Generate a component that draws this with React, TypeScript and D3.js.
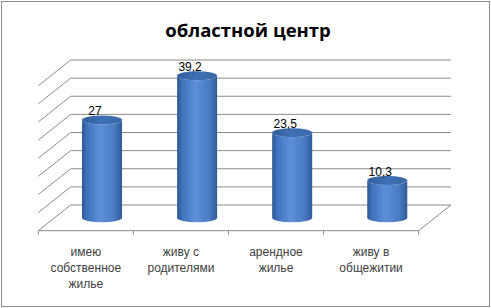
import React from "react";
import * as d3 from "d3";

const categories: string[][] = [
  ["имею", "собственное", "жилье"],
  ["живу с", "родителями"],
  ["арендное", "жилье"],
  ["живу в", "общежитии"],
];
const values: number[] = [27, 39.2, 23.5, 10.3];
const valueLabels: string[] = ["27", "39,2", "23,5", "10,3"];
const gridTicks: number[] = [0, 5, 10, 15, 20, 25, 30, 35, 40];
const title = "областной центр";

const W = 491;
const H = 308;
const backLeft = 70.7;
const backRight = 451;
const depthDx = -32.4;
const depthDy = 25.7;

export default function App() {
  const y = d3.scaleLinear().domain([0, 40]).range([205, 60]);
  const xFront = d3
    .scaleBand<number>()
    .domain(d3.range(categories.length))
    .range([backLeft + depthDx, backRight + depthDx]);
  const bw = xFront.bandwidth();
  const rx = 20;
  const ry = 4.5;
  const midDx = depthDx / 2;
  const midDy = depthDy / 2;
  const frontY = y(0) + depthDy;
  const gridColor = "#8c8c8c";

  return (
    <svg
      width={W}
      height={H}
      style={{ position: "absolute", left: 0, top: 0, background: "#fff" }}
    >
      <defs>
        <linearGradient id="body" x1="0" x2="1" y1="0" y2="0">
          <stop offset="0" stopColor="#2c5694" />
          <stop offset="0.12" stopColor="#3f72bb" />
          <stop offset="0.45" stopColor="#5d90d8" />
          <stop offset="0.8" stopColor="#4a7cc4" />
          <stop offset="1" stopColor="#2f5a98" />
        </linearGradient>
        <linearGradient id="top" x1="0" x2="1" y1="0" y2="0">
          <stop offset="0" stopColor="#345f9f" />
          <stop offset="0.5" stopColor="#3f6fb4" />
          <stop offset="1" stopColor="#3a68a8" />
        </linearGradient>
      </defs>
      <rect x={1.5} y={1.5} width={488} height={305} fill="#fff" stroke="#8c8c8c" />
      <text
        x={248}
        y={36.7}
        textAnchor="middle"
        fontFamily="'Open Sans', 'Liberation Sans', Arial, sans-serif"
        fontWeight="bold"
        fontSize={18.5}
        fill="#000"
      >
        {title}
      </text>
      {gridTicks.map((t) => (
        <g key={t}>
          <line x1={backLeft} x2={backRight} y1={y(t)} y2={y(t)} stroke={gridColor} />
          <line
            x1={backLeft}
            y1={y(t)}
            x2={backLeft + depthDx}
            y2={y(t) + depthDy}
            stroke={gridColor}
          />
        </g>
      ))}
      <line
        x1={backLeft + depthDx}
        x2={backRight + depthDx}
        y1={frontY}
        y2={frontY}
        stroke={gridColor}
      />
      <line
        x1={backRight}
        y1={y(0)}
        x2={backRight + depthDx}
        y2={frontY}
        stroke={gridColor}
      />
      {d3.range(categories.length + 1).map((i) => {
        const x = i < categories.length ? xFront(i)! : xFront(categories.length - 1)! + bw;
        return (
          <line key={i} x1={x} x2={x} y1={frontY} y2={frontY + 4} stroke={gridColor} />
        );
      })}
      {values.map((v, i) => {
        const c = xFront(i)! + bw / 2 - midDx;
        const yb = y(0) + midDy;
        const yt = y(v) + midDy;
        const body = `M${c - rx},${yt} L${c - rx},${yb} A${rx},${ry} 0 0 0 ${c + rx},${yb} L${c + rx},${yt} A${rx},${ry} 0 0 1 ${c - rx},${yt} Z`;
        return (
          <g key={i}>
            <path d={body} fill="url(#body)" />
            <ellipse cx={c} cy={yt} rx={rx} ry={ry} fill="url(#top)" />
            <text
              x={c - 7}
              y={yt - ry - 0.5}
              textAnchor="middle"
              fontFamily="'Liberation Sans', Arial, sans-serif"
              fontSize={12}
              fill="#000"
            >
              {valueLabels[i]}
            </text>
          </g>
        );
      })}
      {categories.map((lines, i) => (
        <text
          key={i}
          textAnchor="middle"
          fontFamily="'Liberation Sans', Arial, sans-serif"
          fontSize={12}
          fill="#404040"
        >
          {lines.map((l, j) => (
            <tspan key={j} x={xFront(i)! + bw / 2} y={256 + j * 16}>
              {l}
            </tspan>
          ))}
        </text>
      ))}
    </svg>
  );
}
